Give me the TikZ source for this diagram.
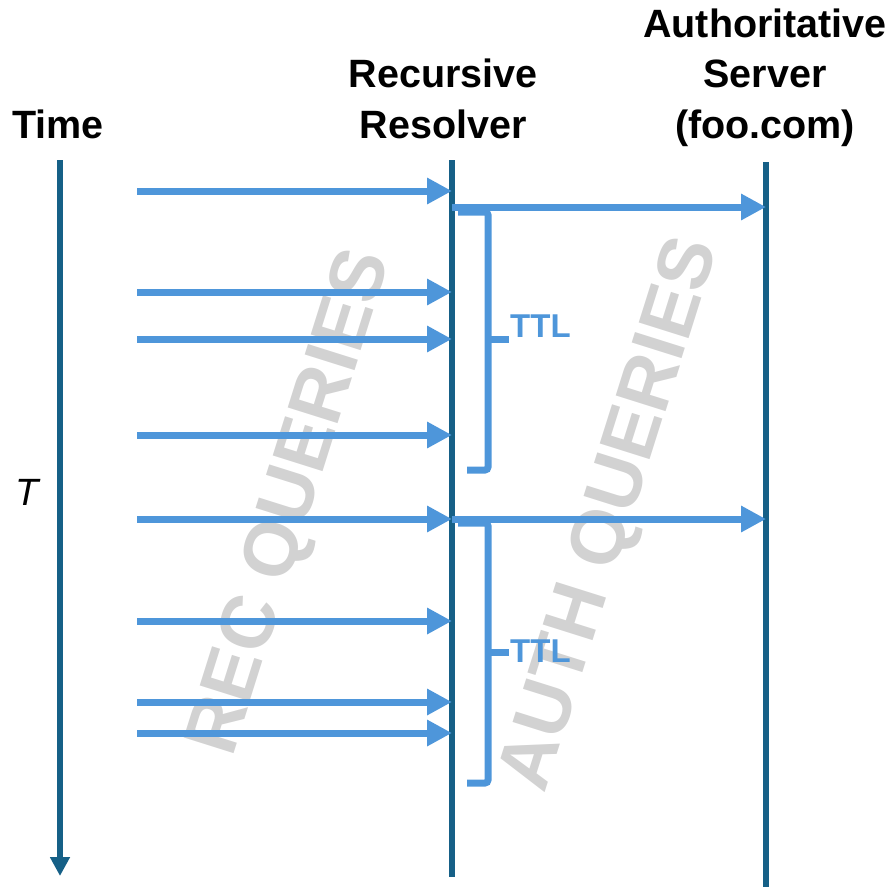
\documentclass[tikz,border=0pt]{standalone}
\usepackage{fontspec}
\setmainfont{Liberation Sans}
\usetikzlibrary{arrows.meta}
\definecolor{lifeblue}{RGB}{22,96,135}
\definecolor{msgblue}{RGB}{78,150,218}
\definecolor{wmgray}{RGB}{210,210,210}

\begin{document}
\begin{tikzpicture}[x=1pt,y=-1pt,
  head/.style={font=\bfseries\fontsize{39.5pt}{50.5pt}\selectfont,align=center,inner sep=0pt},
  life/.style={draw=lifeblue,line width=6pt},
  msg/.style={draw=msgblue,line width=7pt,-{Triangle[length=25pt,width=25pt]}},
  brace/.style={draw=msgblue,line width=7pt,rounded corners=3pt},
  ttl/.style={font=\bfseries\fontsize{33pt}{33pt}\selectfont,text=msgblue,inner sep=0pt,anchor=west},
  wmark/.style={font=\bfseries\fontsize{76pt}{76pt}\selectfont,text=wmgray,inner sep=0pt,rotate=72.5}]
  \useasboundingbox (0,0) rectangle (896,887);
  % watermarks first, so everything else is drawn over them
  \node[wmark] (wrec) at (293,503) {REC QUERIES};
  \node[wmark] (wauth) at (613,515) {AUTH QUERIES};

  % headings (base = baseline of the last line)
  \node[head,anchor=base] (timelbl) at (58,138) {Time};
  \node[head,anchor=base] (reslbl) at (443,138) {Recursive\\Resolver};
  \node[head,anchor=base] (authlbl) at (765,138) {Authoritative\\Server\\(foo.com)};
  \node[font=\itshape\fontsize{38pt}{38pt}\selectfont,inner sep=0pt] (tmark) at (27,492) {T};

  % lifelines
  \coordinate (timetop) at (60,160);
  \coordinate (timebot) at (60,876);
  \coordinate (restop) at (452,160);
  \coordinate (resbot) at (452,877);
  \coordinate (authtop) at (766,162);
  \coordinate (authbot) at (766,887);
  \draw[life,-{Triangle[length=19pt,width=19pt]}] (timetop) -- (timebot);
  \draw[life] (restop) -- (resbot);
  \draw[life] (authtop) -- (authbot);

  % client queries into the resolver
  \foreach \y [count=\i] in {191,292,339,435,519,621,702,733} {
    \coordinate (q\i) at (137,\y);
    \draw[msg] (q\i) -- (q\i -| restop);
  }

  % resolver queries to the authoritative server
  \coordinate (a1) at (452,207);
  \coordinate (a2) at (452,519);
  \draw[msg] (a1) -- (a1 -| authtop);
  \draw[msg] (a2) -- (a2 -| authtop);

  % cache lifetime brackets
  \draw[brace] (458,212) -- (488,212) -- (488,470) -- (467,470);
  \draw[brace] (488,339) -- (509,339);
  \node[ttl] (ttl1) at (510,326) {TTL};
  \draw[brace] (458,523) -- (488,523) -- (488,783) -- (467,783);
  \draw[brace] (488,652) -- (509,652);
  \node[ttl] (ttl2) at (510,651) {TTL};
\end{tikzpicture}
\end{document}
